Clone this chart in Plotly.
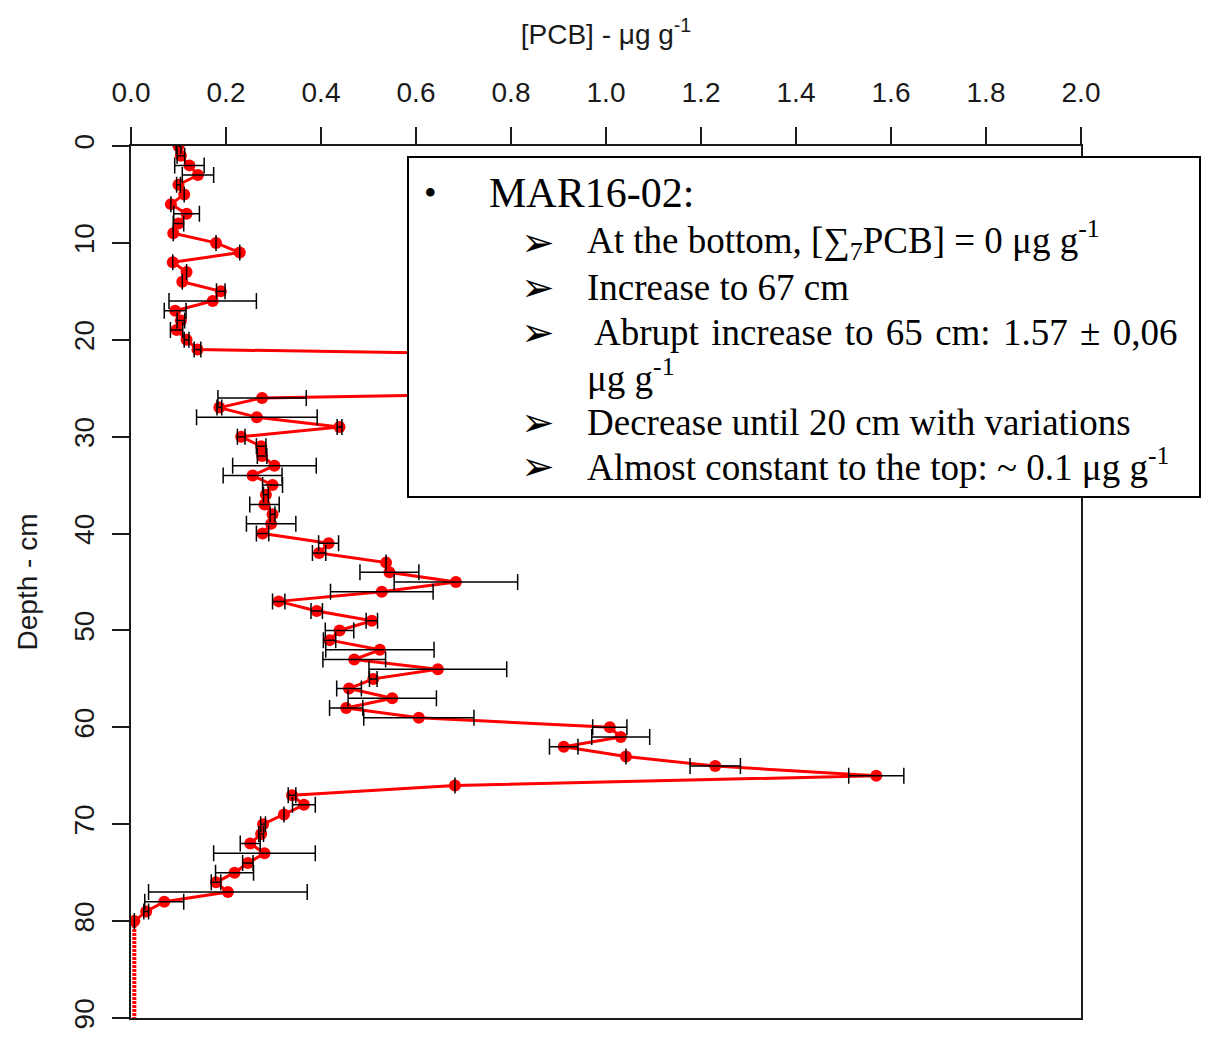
import plotly.graph_objects as go

# ---- data ----
depth = list(range(0, 81))
pcb = [
    0.100, 0.105, 0.123, 0.141, 0.100, 0.112, 0.084, 0.117, 0.100, 0.089,
    0.179, 0.229, 0.088, 0.117, 0.108, 0.189, 0.172, 0.093, 0.105, 0.096,
    0.117, 0.140, 1.450, 1.200, 1.300, 1.500, 0.276, 0.186, 0.265, 0.439,
    0.232, 0.274, 0.276, 0.302, 0.256, 0.298, 0.284, 0.281, 0.298, 0.295,
    0.277, 0.416, 0.396, 0.537, 0.544, 0.684, 0.528, 0.311, 0.391, 0.507,
    0.439, 0.418, 0.524, 0.470, 0.646, 0.510, 0.459, 0.550, 0.453, 0.606,
    1.008, 1.031, 0.911, 1.042, 1.230, 1.569, 0.682, 0.339, 0.364, 0.322,
    0.278, 0.274, 0.251, 0.281, 0.246, 0.218, 0.179, 0.204, 0.070, 0.032,
    0.007,
]
pcb_err = [
    0.005, 0.008, 0.031, 0.033, 0.004, None, None, 0.027, 0.011, None,
    None, None, None, None, None, 0.009, 0.092, 0.023, 0.008, 0.013,
    0.005, 0.007, None, None, None, None, 0.093, 0.005, 0.127, 0.005,
    0.008, 0.010, 0.010, 0.088, 0.062, 0.021, 0.005, 0.031, 0.005, 0.052,
    0.013, 0.021, 0.014, None, 0.062, 0.130, 0.108, 0.013, 0.012, 0.012,
    0.030, 0.013, 0.114, 0.066, 0.145, 0.008, 0.026, 0.093, 0.035, 0.116,
    0.036, 0.061, 0.030, None, 0.053, 0.058, None, 0.008, 0.024, None,
    0.005, 0.005, 0.021, 0.107, 0.011, 0.040, 0.010, 0.167, 0.041, 0.005,
    None,
]
depth_bottom = list(range(80, 91))
pcb_bottom = [0.007] * 11

x_ticks = [0.0, 0.2, 0.4, 0.6, 0.8, 1.0, 1.2, 1.4, 1.6, 1.8, 2.0]
y_ticks = [0, 10, 20, 30, 40, 50, 60, 70, 80, 90]

# ---- layout geometry ----
W, H = 1211, 1046
L, R, T, B = 131, 1081, 146, 1018


def px(x):
    return (x - L) / (R - L)


def py(y):
    return 1 - (y - T) / (B - T)


SANS = "Liberation Sans, Arial, sans-serif"
SERIF = "Liberation Serif, Times New Roman, serif"
INK = "#1a1a1a"

fig = go.Figure()

fig.add_trace(go.Scatter(
    x=pcb_bottom, y=depth_bottom, mode="lines",
    line=dict(color="#ff0000", width=4, dash="3px,1px"),
    showlegend=False, hoverinfo="skip",
))
fig.add_trace(go.Scatter(
    x=pcb, y=depth, mode="lines+markers",
    line=dict(color="#ff0000", width=3),
    marker=dict(color="#ff0000", size=12),
    showlegend=False, name="PCB",
))
fig.add_trace(go.Scatter(
    x=pcb, y=depth, mode="markers",
    marker=dict(size=1, color="rgba(0,0,0,0)"),
    error_x=dict(type="data", array=pcb_err, symmetric=True,
                 color="black", thickness=1.5, width=8),
    showlegend=False, hoverinfo="skip",
))

fig.update_layout(
    width=W, height=H,
    margin=dict(l=L, r=W - R, t=T, b=H - B, pad=0),
    paper_bgcolor="white", plot_bgcolor="white",
    font=dict(family=SANS, size=28, color=INK),
    showlegend=False,
)
fig.update_xaxes(
    side="top", range=[0, 2.0], tickvals=x_ticks,
    ticktext=[f"{v:.1f}" for v in x_ticks],
    ticks="outside", ticklen=17, tickwidth=1.5, tickcolor=INK,
    showline=True, linecolor=INK, linewidth=1.5, mirror=True,
    showgrid=False, zeroline=False,
    ticklabelstandoff=14,
    title=dict(text="[PCB] - μg g<sup>-1</sup>", standoff=24,
               font=dict(family=SANS, size=28, color=INK)),
    tickfont=dict(family=SANS, size=28, color=INK),
)
fig.update_yaxes(
    range=[90, 0], tickvals=y_ticks, tickangle=-90,
    ticks="outside", ticklen=17, tickwidth=1.5, tickcolor=INK,
    showline=True, linecolor=INK, linewidth=1.5, mirror=True,
    showgrid=False, zeroline=False,
    ticklabelstandoff=7,
    title=dict(text="Depth - cm", standoff=23,
               font=dict(family=SANS, size=28, color=INK)),
    tickfont=dict(family=SANS, size=28, color=INK),
)

# text box
fig.add_shape(type="rect", xref="paper", yref="paper",
              x0=px(408), x1=px(1200), y0=py(497), y1=py(157),
              fillcolor="white", line=dict(color="black", width=2),
              layer="above")

anns = [
    ("•", 430, 193, 36, "center"),
    ("MAR16-02:", 487, 193, 42, "left"),
    ("At the bottom, [∑<sub>7</sub>PCB] = 0 μg g<sup>-1</sup>", 585, 240, 37, "left"),
    ("Increase to 67 cm", 585, 287, 37, "left"),
    ("Abrupt \u200aincrease \u200ato \u200a65 \u200acm: \u200a1.57 \u200a± \u200a0,06", 592, 332, 37, "left"),
    ("μg g<sup>-1</sup>", 585, 375, 37, "left"),
    ("Decrease until 20 cm with variations", 585, 422, 37, "left"),
    ("Almost constant to the top: ~ 0.1 μg g<sup>-1</sup>", 585, 464, 37, "left"),
]
for text, x, y, size, anchor in anns:
    fig.add_annotation(text=text, x=px(x), y=py(y), xref="paper", yref="paper",
                       xanchor=anchor, yanchor="middle", showarrow=False,
                       font=dict(family=SERIF, size=size, color="black"))
for y in [242, 287, 332, 422, 466]:
    fig.add_annotation(text="➢", x=px(538), y=py(y), xref="paper", yref="paper",
                       xanchor="center", yanchor="middle", showarrow=False,
                       font=dict(family="DejaVu Sans", size=40, color="black"))

fig.write_html("out.html")
